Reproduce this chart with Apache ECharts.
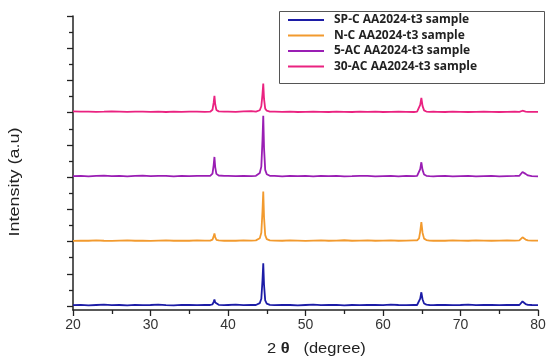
<!DOCTYPE html>
<html>
<head>
<meta charset="utf-8">
<script src="https://cdn.jsdelivr.net/npm/echarts@6/dist/echarts.min.js"></script>
<style>html,body{margin:0;padding:0;background:#fff;}#c{width:550px;height:362px;}</style>
</head>
<body>
<div id="c"></div>
<script>
// 2θ positions (degrees)
var angles = [20,21,22,23,24,25,26,27,28,29,30,31,32,33,34,35,36,37,
  37.7,38.0,38.15,38.25,38.35,38.5,38.8,39.5,
  40,41,42,43,
  43.6,44.1,44.3,44.45,44.55,44.65,44.8,45.0,45.4,
  46,47,48,49,50,51,52,53,54,55,56,57,58,59,60,61,62,63,64,
  64.4,64.65,64.8,64.95,65.1,65.3,65.6,66.0,66.5,
  67,68,69,70,71,72,73,74,75,76,77,
  77.6,77.85,78.0,78.1,78.2,78.4,78.7,79.2,
  80];

var seriesNames = ['SP-C AA2024-t3 sample','N-C AA2024-t3 sample','5-AC AA2024-t3 sample','30-AC AA2024-t3 sample'];
var seriesOffsets = [0, 4, 8, 12];

var spC = [0.05,0.07,0.04,0.06,0.08,0.05,0.06,0.04,0.07,0.05,0.06,0.08,0.05,0.04,0.07,0.06,0.05,0.07,
  0.06,0.10,0.26,0.40,0.22,0.10,0.07,0.05,
  0.06,0.08,0.05,0.07,
  0.06,0.18,0.45,1.6,2.65,1.3,0.35,0.15,0.07,
  0.05,0.07,0.06,0.04,0.06,0.08,0.05,0.06,0.07,0.04,0.06,0.05,0.07,0.06,0.05,0.08,0.06,0.05,0.07,
  0.06,0.16,0.45,0.85,0.42,0.15,0.08,0.06,0.05,
  0.06,0.07,0.05,0.06,0.08,0.05,0.06,0.07,0.05,0.06,0.07,
  0.06,0.14,0.28,0.33,0.26,0.12,0.07,0.06,
  0.05];

var nC = [0.04,0.06,0.05,0.07,0.05,0.04,0.06,0.07,0.05,0.06,0.04,0.06,0.07,0.05,0.06,0.05,0.07,0.06,
  0.06,0.12,0.32,0.50,0.28,0.11,0.07,0.05,
  0.06,0.05,0.07,0.06,
  0.07,0.20,0.55,1.9,3.1,1.5,0.40,0.15,0.07,
  0.06,0.05,0.07,0.06,0.04,0.06,0.07,0.05,0.06,0.08,0.05,0.06,0.07,0.05,0.06,0.07,0.05,0.06,0.07,
  0.07,0.20,0.62,1.2,0.55,0.18,0.09,0.06,0.05,
  0.06,0.05,0.07,0.06,0.05,0.07,0.06,0.05,0.06,0.07,0.06,
  0.07,0.13,0.26,0.31,0.24,0.12,0.07,0.06,
  0.06];

var ac5 = [0.06,0.08,0.05,0.07,0.09,0.06,0.08,0.05,0.07,0.09,0.06,0.07,0.08,0.05,0.07,0.06,0.08,0.07,
  0.08,0.22,0.75,1.25,0.62,0.20,0.10,0.07,
  0.08,0.06,0.07,0.06,
  0.08,0.25,0.65,2.3,3.8,1.8,0.45,0.18,0.08,
  0.07,0.05,0.08,0.06,0.07,0.05,0.08,0.06,0.07,0.05,0.06,0.08,0.07,0.05,0.06,0.07,0.05,0.08,0.06,
  0.07,0.18,0.50,0.92,0.45,0.16,0.08,0.06,0.05,
  0.06,0.07,0.05,0.06,0.07,0.05,0.06,0.07,0.05,0.06,0.07,
  0.08,0.20,0.32,0.35,0.30,0.20,0.10,0.06,
  0.05];

var ac30 = [0.08,0.06,0.07,0.05,0.06,0.08,0.07,0.05,0.06,0.07,0.05,0.06,0.04,0.06,0.05,0.07,0.06,0.05,
  0.06,0.18,0.62,1.05,0.52,0.17,0.08,0.06,
  0.07,0.05,0.08,0.10,
  0.06,0.15,0.40,1.15,1.8,0.85,0.25,0.12,0.06,
  0.07,0.05,0.06,0.04,0.05,0.06,0.05,0.04,0.06,0.05,0.04,0.06,0.05,0.06,0.04,0.05,0.06,0.05,0.04,
  0.06,0.15,0.48,0.92,0.42,0.14,0.07,0.05,0.06,
  0.05,0.04,0.06,0.05,0.04,0.05,0.06,0.05,0.04,0.05,0.06,
  0.05,0.08,0.12,0.14,0.11,0.07,0.05,0.05,
  0.05];

var xTicks = [20,30,40,50,60,70,80];
var yMajorTicks = [0,2,4,6,8,10,12,14,16,18];
var yMinorTicks = [1,3,5,7,9,11,13,15,17];

var colors = ['#1c1ca6','#f29a2e','#9a1eb4','#ea2280'];
var seriesValues = [spC, nC, ac5, ac30];

var series = seriesValues.map(function (vals, i) {
  return {
    name: seriesNames[i],
    type: 'line',
    showSymbol: false,
    symbol: 'none',
    smooth: false,
    lineStyle: { width: 1.8, color: colors[i] },
    itemStyle: { color: colors[i] },
    data: vals.map(function (v, k) { return [angles[k], v + seriesOffsets[i]]; })
  };
});

var chart = echarts.init(document.getElementById('c'), null, { renderer: 'canvas' });
chart.setOption({
  animation: false,
  backgroundColor: '#ffffff',
  grid: { left: 73, right: 12, top: 16, bottom: 52 },
  xAxis: {
    type: 'value', min: 20, max: 80, interval: 10,
    axisLine: { onZero: false, lineStyle: { color: '#222', width: 1.5 } },
    axisTick: { show: true, inside: false, length: 6, lineStyle: { color: '#222', width: 1.3 } },
    minorTick: { show: true, splitNumber: 2, length: 4, lineStyle: { color: '#222', width: 1.3 } },
    splitLine: { show: false },
    axisLabel: { margin: 8, color: '#333', fontSize: 14, fontFamily: 'Liberation Sans' }
  },
  yAxis: [{
    type: 'value', min: -0.25, max: 18, position: 'left',
    axisLine: { show: true, onZero: false, lineStyle: { color: '#222', width: 1.5 } },
    axisTick: { show: true, inside: false, length: 6, customValues: yMajorTicks, lineStyle: { color: '#222', width: 1.3 } },
    axisLabel: { show: false },
    splitLine: { show: false }
  }, {
    type: 'value', min: -0.25, max: 18, position: 'left',
    axisLine: { show: false, onZero: false },
    axisTick: { show: true, inside: false, length: 4, customValues: yMinorTicks, lineStyle: { color: '#222', width: 1.3 } },
    axisLabel: { show: false },
    splitLine: { show: false }
  }],
  legend: {
    orient: 'vertical', left: 288, top: 13,
    icon: 'rect', itemWidth: 36, itemHeight: 2, itemGap: 1.5,
    padding: 0,
    textStyle: { fontFamily: 'Open Sans', fontWeight: 'bold', fontSize: 12, color: '#222', lineHeight: 14, padding: [0, 0, 0, 5] },
    data: seriesNames
  },
  graphic: [
    { type: 'rect', left: 277, top: 9, shape: { x: 0, y: 0, width: 265, height: 72 }, style: { fill: 'none', stroke: '#555', lineWidth: 1 }, z: 1 },
    { type: 'text', x: 15, y: 182, rotation: Math.PI / 2, scaleX: 1.2,
      style: { text: 'Intensity (a.u)', font: '15px "Liberation Sans"', fill: '#222', textAlign: 'center', textVerticalAlign: 'middle' } },
    { type: 'text', x: 267, y: 349, scaleX: 1.1,
      style: { text: '{a|2 }{b|θ}{a|   (degree)}', textVerticalAlign: 'middle', textAlign: 'left',
        rich: { a: { fontFamily: 'Liberation Sans', fontSize: 15, fill: '#222' }, b: { fontFamily: 'Liberation Sans', fontWeight: 'bold', fontSize: 15, fill: '#222' } } } }
  ],
  series: series
});
</script>
</body>
</html>
